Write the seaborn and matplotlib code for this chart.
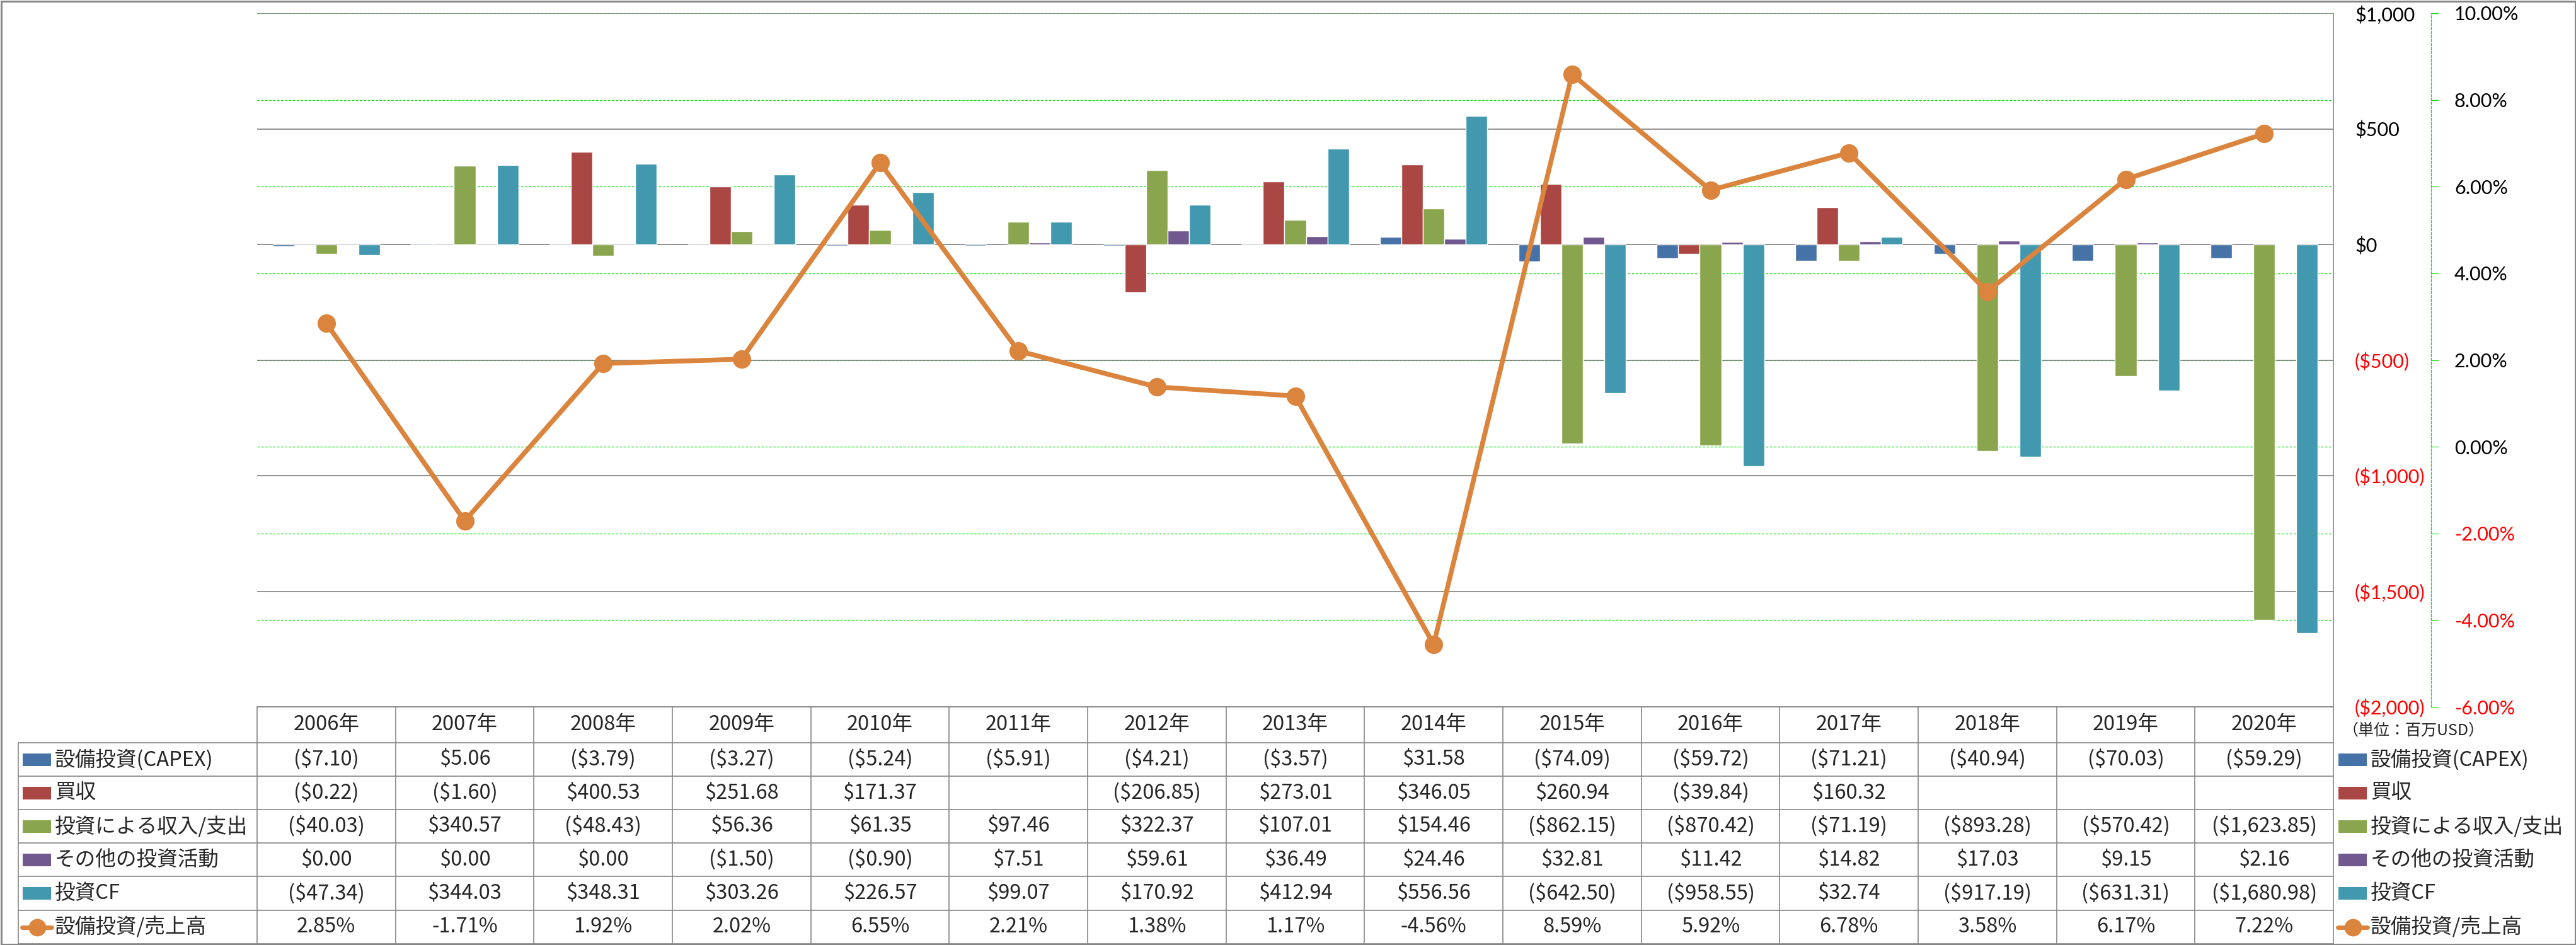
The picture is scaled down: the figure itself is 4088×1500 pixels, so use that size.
import numpy as np
import pandas as pd
import seaborn as sns
import matplotlib.pyplot as plt
from matplotlib.patches import Rectangle

sns.set_style('white')
plt.rcParams['font.family'] = ['Noto Sans CJK JP', 'DejaVu Sans']

# data (百万USD)
years = ['2006年', '2007年', '2008年', '2009年', '2010年', '2011年', '2012年', '2013年',
         '2014年', '2015年', '2016年', '2017年', '2018年', '2019年', '2020年']
capex = [-7.10, 5.06, -3.79, -3.27, -5.24, -5.91, -4.21, -3.57, 31.58, -74.09,
         -59.72, -71.21, -40.94, -70.03, -59.29]
acquisition = [-0.22, -1.60, 400.53, 251.68, 171.37, np.nan, -206.85, 273.01, 346.05,
               260.94, -39.84, 160.32, np.nan, np.nan, np.nan]
invest_inout = [-40.03, 340.57, -48.43, 56.36, 61.35, 97.46, 322.37, 107.01, 154.46,
                -862.15, -870.42, -71.19, -893.28, -570.42, -1623.85]
other_invest = [0.00, 0.00, 0.00, -1.50, -0.90, 7.51, 59.61, 36.49, 24.46, 32.81,
                11.42, 14.82, 17.03, 9.15, 2.16]
invest_cf = [-47.34, 344.03, 348.31, 303.26, 226.57, 99.07, 170.92, 412.94, 556.56,
             -642.50, -958.55, 32.74, -917.19, -631.31, -1680.98]
capex_ratio = [2.85, -1.71, 1.92, 2.02, 6.55, 2.21, 1.38, 1.17, -4.56, 8.59, 5.92,
               6.78, 3.58, 6.17, 7.22]

series_names = ['設備投資(CAPEX)', '買収', '投資による収入/支出', 'その他の投資活動', '投資CF']
line_name = '設備投資/売上高'
colors = ['#4572A7', '#AA4643', '#89A54E', '#71588F', '#4198AF']
orange = '#DB843D'
money_ticks = [1000, 500, 0, -500, -1000, -1500, -2000]
pct_ticks = [10, 8, 6, 4, 2, 0, -2, -4, -6]

df = pd.DataFrame({'year': years, series_names[0]: capex, series_names[1]: acquisition,
                   series_names[2]: invest_inout, series_names[3]: other_invest,
                   series_names[4]: invest_cf})
long = df.melt(id_vars='year', var_name='series', value_name='value')


def money(v):
    if np.isnan(v):
        return ''
    return f'(${-v:,.2f})' if v < 0 else f'${v:,.2f}'


def money_tick(v):
    return f'(${-v:,.0f})' if v < 0 else f'${v:,.0f}'


W, H = 4088, 1500
L, R, T, B = 408, 3703, 21, 1122
fig = plt.figure(figsize=(W / 100, H / 100), dpi=100)
rect = [L / W, 1 - B / H, (R - L) / W, (B - T) / H]
ax = fig.add_axes(rect)
ax3 = ax.twinx()   # percentage grid + labels (behind bars)
ax2 = ax.twinx()   # line (on top)
ax3.set_zorder(0)
ax.set_zorder(1)
ax2.set_zorder(2)
for a in (ax, ax2, ax3):
    a.patch.set_visible(False)

# bars
sns.barplot(data=long, x='year', y='value', hue='series', order=years,
            hue_order=series_names, palette=colors, saturation=1, width=0.775,
            gap=0, errorbar=None, legend=False, ax=ax)
ax.set_xlim(-0.5, len(years) - 0.5)
ax.set_ylim(-2000, 1000)
ax.yaxis.tick_right()
ax.set_yticks(money_ticks)
ax.set_yticklabels([money_tick(v) for v in money_ticks], fontfamily='Lato', fontsize=22)
for lab, v in zip(ax.get_yticklabels(), money_ticks):
    lab.set_color('#FF0000' if v < 0 else 'black')
ax.tick_params(axis='y', length=0, pad=24.5)
ax.tick_params(axis='x', length=0, labelbottom=False)
ax.set_xlabel('')
ax.set_ylabel('')
ax.set_axisbelow(True)
ax.yaxis.grid(True, color='#808080', lw=1.2)
ax.xaxis.grid(False)
for s in ['left', 'top', 'bottom']:
    ax.spines[s].set_visible(False)
ax.spines['right'].set_color('#868686')
ax.spines['right'].set_linewidth(1.2)

# percentage axis
for s in ['left', 'top', 'bottom']:
    ax3.spines[s].set_visible(False)
ax3.spines['right'].set_position(('axes', (3858 - L) / (R - L)))
ax3.spines['right'].set_color('#00E000')
ax3.spines['right'].set_linestyle((0, (3, 2)))
ax3.spines['right'].set_linewidth(0.9)
ax3.set_ylim(-6, 10)
ax3.set_yticks(pct_ticks)
ax3.set_yticklabels([f'{v:.2f}%' for v in pct_ticks], fontfamily='Lato', fontsize=22)
for lab, v in zip(ax3.get_yticklabels(), pct_ticks):
    lab.set_color('#FF0000' if v < 0 else 'black')
ax3.tick_params(axis='y', length=8.6, width=0.8, color='#00E000', direction='out', pad=18)
ax3.yaxis.grid(True, color='#00E000', lw=0.9, ls=(0, (3, 2)))

# line
sns.pointplot(x=years, y=capex_ratio, ax=ax2, color=orange, markers='o',
              markersize=21, linewidth=5.5, markeredgewidth=0, errorbar=None)
ax2.set_ylim(-6, 10)
ax2.set_xlim(-0.5, len(years) - 0.5)
ax2.set_yticks([])
ax2.set_ylabel('')
ax2.set_xlabel('')
ax2.tick_params(axis='x', length=0, labelbottom=False)
for s in ax2.spines.values():
    s.set_visible(False)

# data table
tab = fig.add_axes([0, 0, 1, 1])
tab.set_xlim(0, W)
tab.set_ylim(H, 0)
tab.axis('off')
tab.patch.set_visible(False)
tab.set_zorder(3)

gc = '#868686'
colw = (R - L) / len(years)
edges = [1179, 1232, 1285, 1338, 1391, 1445, 1498]
tab.plot([L, R], [B, B], color=gc, lw=1.2)
for y in edges:
    tab.plot([29, R], [y, y], color=gc, lw=1.2)
tab.plot([29, 29], [edges[0], edges[-1]], color=gc, lw=1.2)
for k in range(len(years) + 1):
    x = L + k * colw
    tab.plot([x, x], [B, edges[-1]], color=gc, lw=1.2)

fs = 23.5
for i, yr in enumerate(years):
    tab.text(L + (i + 0.5) * colw, (B + edges[0]) / 2, yr, ha='center', va='center', fontsize=fs)

rows = [capex, acquisition, invest_inout, other_invest, invest_cf]
for r, vals in enumerate(rows):
    yc = (edges[r] + edges[r + 1]) / 2
    for i, v in enumerate(vals):
        tab.text(L + (i + 0.5) * colw, yc, money(v), ha='center', va='center', fontsize=fs)
yc = (edges[5] + edges[6]) / 2
for i, v in enumerate(capex_ratio):
    tab.text(L + (i + 0.5) * colw, yc, f'{v:.2f}%', ha='center', va='center', fontsize=fs)

# legend keys (left labels and right legend)
for x0 in (36, 3711):
    for r, (name, c) in enumerate(zip(series_names, colors)):
        yc = (edges[r] + edges[r + 1]) / 2
        tab.add_patch(Rectangle((x0, yc - 10), 45, 20, color=c, lw=0))
        tab.text(x0 + 51, yc, name, ha='left', va='center', fontsize=fs)
    yc = (edges[5] + edges[6]) / 2
    tab.plot([x0 - 1, x0 + 46], [yc, yc], color=orange, lw=5, solid_capstyle='round')
    tab.plot([x0 + 22.5], [yc], 'o', color=orange, ms=20, mew=0)
    tab.text(x0 + 51, yc, line_name, ha='left', va='center', fontsize=fs)

tab.text(3718, 1160, '（単位：百万USD）', ha='left', va='center', fontsize=18)

# outer frame
tab.add_patch(Rectangle((1.5, 1.5), W - 3, H - 3, fill=False, edgecolor=gc, lw=2.2))

fig.savefig('out.png', dpi=100)
